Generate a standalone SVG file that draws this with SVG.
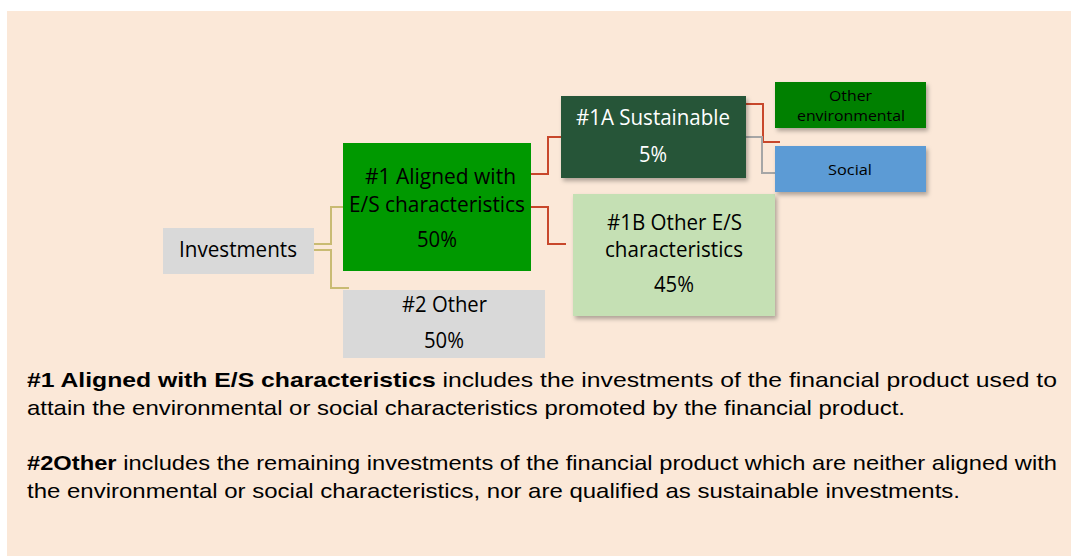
<svg xmlns="http://www.w3.org/2000/svg" width="1071" height="556" viewBox="0 0 1071 556">
<defs>
<filter id="sh" x="-10%" y="-10%" width="125%" height="135%">
<feDropShadow dx="2" dy="3" stdDeviation="2" flood-color="#000" flood-opacity="0.3"/>
</filter>
</defs>
<style>
.bt{font-family:"Open Sans","Noto Sans",sans-serif;font-size:21px;text-anchor:start}
.sm{font-size:15px}
.para{font-family:"Liberation Sans",Arial,sans-serif;font-size:21px;fill:#000}
.c{fill:none;stroke-width:2}
.y{stroke:#C9BB73}
.r{stroke:#C8472B}
.g{stroke:#A6A6A6}
</style>
<rect x="7" y="11" width="1064" height="545" fill="#FBE8D8"/>
<g id="connectors">
<polyline class="c y" points="314,244 331,244 331,207 343,207"/>
<polyline class="c y" points="314,250 331,250 331,288 349,288"/>
<polyline class="c r" points="531,174 548,174 548,137 561,137"/>
<polyline class="c r" points="531,207 548,207 548,244 566,244"/>
<polyline class="c r" points="746,104 763,104 763,142 780,142"/>
<polyline class="c g" points="746,137 762,137 762,173 775,173"/>
</g>
<g id="investments">
<rect x="163" y="228" width="151" height="46" fill="#D9D9D9"/>
<text class="bt" x="179" y="257" textLength="118" lengthAdjust="spacingAndGlyphs">Investments</text>
</g>
<g id="aligned">
<rect x="343" y="143" width="188" height="128" fill="#009900"/>
<text class="bt" x="365" y="184" textLength="151" lengthAdjust="spacingAndGlyphs">#1 Aligned with</text>
<text class="bt" x="349" y="212" textLength="176" lengthAdjust="spacingAndGlyphs">E/S characteristics</text>
<text class="bt" x="417" y="247" textLength="40" lengthAdjust="spacingAndGlyphs">50%</text>
</g>
<g id="other2">
<rect x="343" y="290" width="202" height="68" fill="#D9D9D9"/>
<text class="bt" x="402" y="312" textLength="85" lengthAdjust="spacingAndGlyphs">#2 Other</text>
<text class="bt" x="424" y="348" textLength="40" lengthAdjust="spacingAndGlyphs">50%</text>
</g>
<g id="sustainable">
<rect x="561" y="96" width="185" height="82" fill="#255538" filter="url(#sh)"/>
<text class="bt" x="576" y="125" fill="#fff" textLength="154" lengthAdjust="spacingAndGlyphs">#1A Sustainable</text>
<text class="bt" x="639" y="162" fill="#fff" textLength="28" lengthAdjust="spacingAndGlyphs">5%</text>
</g>
<g id="otherES">
<rect x="573" y="194" width="202" height="122" fill="#C5E0B4" filter="url(#sh)"/>
<text class="bt" x="607" y="230" textLength="135" lengthAdjust="spacingAndGlyphs">#1B Other E/S</text>
<text class="bt" x="605" y="257" textLength="138" lengthAdjust="spacingAndGlyphs">characteristics</text>
<text class="bt" x="654" y="292" textLength="40" lengthAdjust="spacingAndGlyphs">45%</text>
</g>
<g id="otherEnv">
<rect x="775" y="82" width="151" height="46" fill="#008000" filter="url(#sh)"/>
<text class="bt sm" x="829" y="101" textLength="43" lengthAdjust="spacingAndGlyphs">Other</text>
<text class="bt sm" x="797" y="121" textLength="108" lengthAdjust="spacingAndGlyphs">environmental</text>
</g>
<g id="social">
<rect x="775" y="146" width="151" height="46" fill="#5B9BD5" filter="url(#sh)"/>
<text class="bt sm" x="828" y="175" textLength="44" lengthAdjust="spacingAndGlyphs">Social</text>
</g>
<g id="legend">
<text class="para" x="27" y="387" textLength="1030" lengthAdjust="spacingAndGlyphs"><tspan font-weight="bold">#1 Aligned with E/S characteristics</tspan> includes the investments of the financial product used to</text>
<text class="para" x="27" y="415" textLength="878" lengthAdjust="spacingAndGlyphs">attain the environmental or social characteristics promoted by the financial product.</text>
<text class="para" x="27" y="470" textLength="1030" lengthAdjust="spacingAndGlyphs"><tspan font-weight="bold">#2Other</tspan> includes the remaining investments of the financial product which are neither aligned with</text>
<text class="para" x="27" y="498" textLength="933" lengthAdjust="spacingAndGlyphs">the environmental or social characteristics, nor are qualified as sustainable investments.</text>
</g>
</svg>
